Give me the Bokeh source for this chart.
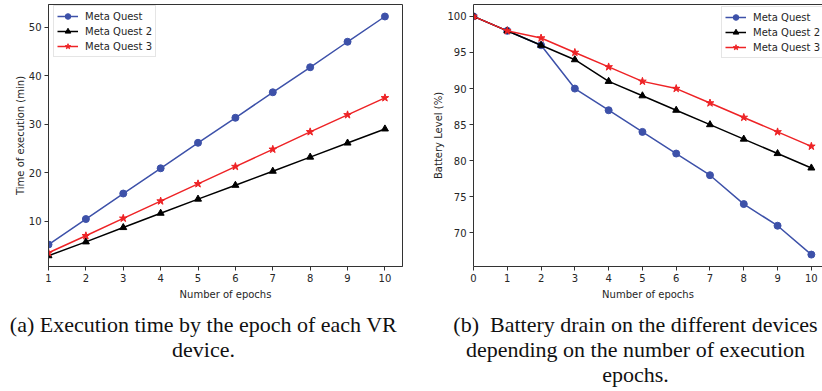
from bokeh.plotting import figure
from bokeh.models import Range1d, FixedTicker, LinearAxis, Legend
from bokeh.layouts import column, row
from bokeh.embed import file_html
from bokeh.resources import INLINE
from bokeh.core.properties import value

# ---- data ----
epochs_a = [1, 2, 3, 4, 5, 6, 7, 8, 9, 10]
time_mq = [5.25, 10.5, 15.75, 20.95, 26.2, 31.35, 36.6, 41.75, 47.0, 52.2]
time_mq2 = [2.95, 5.8, 8.75, 11.7, 14.6, 17.45, 20.35, 23.25, 26.15, 29.05]
time_mq3 = [3.55, 7.05, 10.65, 14.2, 17.75, 21.3, 24.85, 28.45, 31.95, 35.45]

epochs_b = [0, 1, 2, 3, 4, 5, 6, 7, 8, 9, 10]
batt_mq = [100, 98, 96, 90, 87, 84, 81, 78, 74, 71, 67]
batt_mq2 = [100, 98, 96, 94, 91, 89, 87, 85, 83, 81, 79]
batt_mq3 = [100, 98, 97, 95, 93, 91, 90, 88, 86, 84, 82]

series_names = ["Meta Quest", "Meta Quest 2", "Meta Quest 3"]
xticks_a = [1, 2, 3, 4, 5, 6, 7, 8, 9, 10]
yticks_a = [10, 20, 30, 40, 50]
xticks_b = [0, 1, 2, 3, 4, 5, 6, 7, 8, 9, 10]
yticks_b = [70, 75, 80, 85, 90, 95, 100]

caption_a = ["(a) Execution time by the epoch of each VR", "device."]
caption_b = ["(b)\u00a0 Battery drain on the different devices",
             "depending on the number of execution", "epochs."]

BLUE = "#3d51a9"
BLACK = "#000000"
RED = "#ee2326"
TXT = "#262626"
FONT = "DejaVu Sans"


def style_axes(p):
    for ax in (p.xaxis[0], p.yaxis[0]):
        ax.major_label_text_font = FONT
        ax.major_label_text_font_size = "10px"
        ax.major_label_text_color = TXT
        ax.axis_label_text_font = FONT
        ax.axis_label_text_font_size = "10px"
        ax.axis_label_text_font_style = "normal"
        ax.axis_label_text_color = TXT
        ax.minor_tick_line_color = None
        ax.major_tick_in = 0
        ax.major_tick_out = 4
        ax.axis_line_color = "#333333"
        ax.major_tick_line_color = "#333333"
        ax.major_label_standoff = 3
    p.xaxis[0].axis_label_standoff = 4
    p.yaxis[0].axis_label_standoff = 0
    p.xgrid.grid_line_color = None
    p.ygrid.grid_line_color = None


def add_series(p, xs, ys_list):
    colors = [BLUE, BLACK, RED]
    markers = ["circle", "triangle", "star"]
    sizes = [7, 7, 8]
    items = []
    for name, ys, c, m, s in zip(series_names, ys_list, colors, markers, sizes):
        r1 = p.line(xs, ys, line_color=c, line_width=1.5)
        r2 = p.scatter(xs, ys, marker=m, size=s, fill_color=c, line_color=c)
        items.append((name, [r1, r2]))
    return items


def style_legend(leg):
    leg.label_text_font = FONT
    leg.label_text_font_size = "10px"
    leg.label_text_color = TXT
    leg.padding = 3
    leg.spacing = 1
    leg.glyph_height = 14
    leg.label_height = 14
    leg.glyph_width = 21
    leg.label_standoff = 7
    leg.border_line_color = "#cccccc"
    leg.border_line_width = 1
    leg.background_fill_alpha = 0.9
    leg.margin = 0


# ---- plot (a) ----
p1 = figure(width=411, height=300, output_backend="svg", toolbar_location=None,
            x_range=Range1d(1, 10.47), y_range=Range1d(0.73, 54.67),
            frame_width=354, frame_height=262,
            min_border_left=48, min_border_right=9, min_border_top=4, min_border_bottom=34)
p1.xaxis.ticker = FixedTicker(ticks=xticks_a)
p1.yaxis.ticker = FixedTicker(ticks=yticks_a)
p1.xaxis.axis_label = "Number of epochs"
p1.yaxis.axis_label = "Time of execution (min)"
style_axes(p1)
p1.outline_line_color = "#333333"
p1.outline_line_alpha = 1
items1 = add_series(p1, epochs_a, [time_mq, time_mq2, time_mq3])
leg1 = Legend(items=items1, location=(5, 209))
style_legend(leg1)
p1.add_layout(leg1, "center")

# ---- plot (b) ----
p2 = figure(width=411, height=300, output_backend="svg", toolbar_location=None,
            x_range=Range1d(0, 10.33), y_range=Range1d(65.35, 101.65),
            frame_width=349, frame_height=262,
            min_border_left=62, min_border_right=0, min_border_top=4, min_border_bottom=34)
p2.xaxis.ticker = FixedTicker(ticks=xticks_b)
p2.yaxis.ticker = FixedTicker(ticks=yticks_b)
p2.xaxis.axis_label = "Number of epochs"
p2.yaxis.axis_label = "Battery Level (%)"
style_axes(p2)
p2.outline_line_color = None
top_ax = LinearAxis(ticker=FixedTicker(ticks=[]), major_label_text_font_size="0px",
                    major_tick_out=0, major_tick_in=0, major_label_standoff=0,
                    minor_tick_line_color=None, axis_line_color="#333333")
p2.add_layout(top_ax, "above")
items2 = add_series(p2, epochs_b, [batt_mq, batt_mq2, batt_mq3])
leg2 = Legend(items=items2, location=(248, 208))
style_legend(leg2)
p2.add_layout(leg2, "center")

# ---- captions ----
cap = figure(width=822, height=91, output_backend="svg", toolbar_location=None,
             x_range=Range1d(0, 822), y_range=Range1d(91, 0),
             min_border=0)
cap.axis.visible = False
cap.grid.visible = False
cap.outline_line_color = None
cap_x = [203] * len(caption_a) + [635] * len(caption_b)
cap_y = [22, 47] + [22, 47, 72]
cap.text(x=cap_x, y=cap_y, text=caption_a + caption_b,
         text_font=value("Liberation Serif"), text_font_size="22px",
         text_align="center", text_baseline="alphabetic", text_color="#111111")

layout = column(row(p1, p2, spacing=0), cap, spacing=0)
open("out.html", "w").write(file_html(layout, INLINE))
